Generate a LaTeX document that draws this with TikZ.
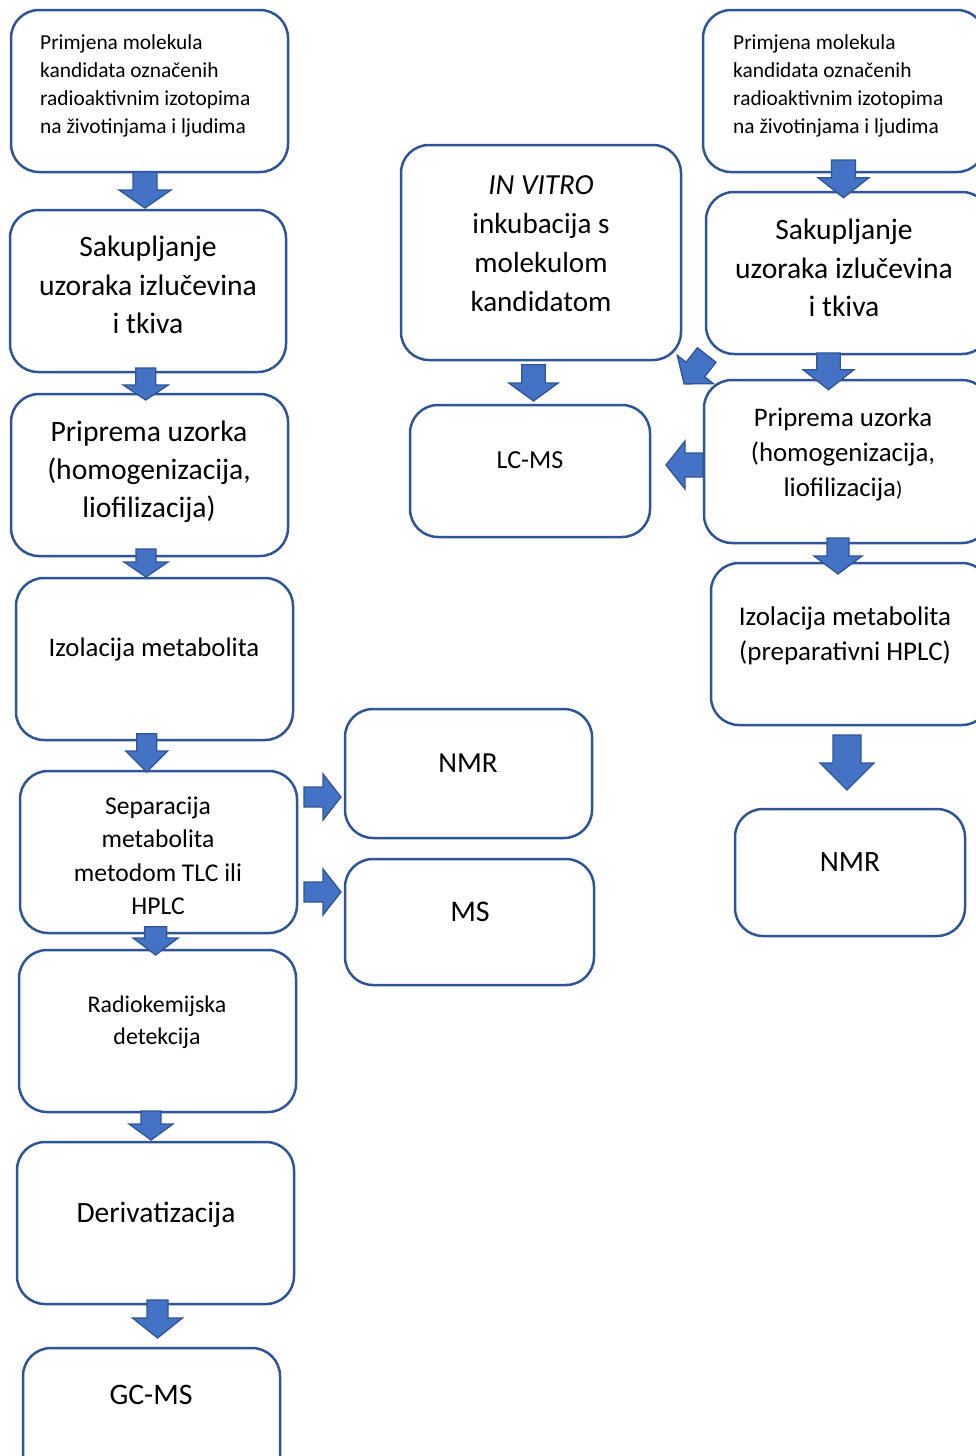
\documentclass[tikz,border=0pt]{standalone}
\usepackage{fontspec}
\setmainfont{Carlito}
\definecolor{bord}{HTML}{2F5597}
\definecolor{afill}{HTML}{4472C4}
\tikzset{
  box/.style={draw=bord, line width=2.5pt, rounded corners=28pt, fill=white, inner sep=0pt},
  txt/.style={align=center, inner sep=0pt, text=black, anchor=base},
  txtl/.style={align=left, inner sep=0pt, text=black, anchor=base west},
  arr/.style={fill=afill, draw=bord, line width=1.3pt, line join=miter},
}
\newcommand\fs[2]{\fontsize{#1}{#2}\selectfont}
% down arrow: cx, top, tip, shaft half, head half, head length
\newcommand\darr[6]{\draw[arr] ({#1-#4},#2) -- ({#1-#4},{#3-#6}) -- ({#1-#5},{#3-#6}) -- (#1,#3) -- ({#1+#5},{#3-#6}) -- ({#1+#4},{#3-#6}) -- ({#1+#4},#2) -- cycle;}
% general arrow: x, y (tail centre), angle, length, shaft half, head half, head length
\newcommand\garr[7]{\draw[arr, shift={(#1,#2)}, rotate=#3] (0,{-#5}) -- ({#4-#7},{-#5}) -- ({#4-#7},{-#6}) -- (#4,0) -- ({#4-#7},#6) -- ({#4-#7},#5) -- (0,#5) -- cycle;}
\begin{document}
\begin{tikzpicture}[x=1pt, y=-1pt]
\clip (0,0) rectangle (976,1456);
\fill[white] (0,0) rectangle (976,1456);

% left column
\node[box, minimum width=277pt, minimum height=162pt] (b1) at (149.5,91) {};
\node[box, minimum width=276pt, minimum height=162pt] (b2) at (148,291) {};
\node[box, minimum width=277pt, minimum height=162pt] (b3) at (149.5,475) {};
\node[box, minimum width=277pt, minimum height=162pt] (b4) at (154.5,659) {};
\node[box, minimum width=277pt, minimum height=162pt] (b5) at (158.5,852) {};
\node[box, minimum width=277pt, minimum height=162pt] (b6) at (157.5,1031) {};
\node[box, minimum width=277pt, minimum height=162pt] (b7) at (155.5,1223) {};
\node[box, minimum width=257pt, minimum height=162pt] (b8) at (151.5,1429) {};

% middle
\node[box, minimum width=280pt, minimum height=215pt] (iv) at (541,252.5) {};
\node[box, minimum width=240pt, minimum height=132pt] (lc) at (530,471) {};
\node[box, minimum width=247pt, minimum height=129pt] (nmrm) at (468.5,773.5) {};
\node[box, minimum width=249pt, minimum height=126pt] (ms) at (469.5,922) {};

% right column
\node[box, minimum width=282pt, minimum height=162pt] (r1) at (844,91) {};
\node[box, minimum width=284pt, minimum height=162pt] (r2) at (848,273) {};
\node[box, minimum width=286pt, minimum height=163pt] (r3) at (847,461.5) {};
\node[box, minimum width=279pt, minimum height=162pt] (r4) at (850.5,644) {};
\node[box, minimum width=230pt, minimum height=127pt] (r5) at (850,872.5) {};

% texts (anchor = baseline of the last line)
\node[txtl, font=\fs{21.4}{28}] (t1) at (40,133.5) {Primjena molekula\\kandidata označenih\\radioaktivnim izotopima\\na životinjama i ljudima};
\node[txt, font=\fs{29.6}{38.5}] (t2) at (148,333.5) {Sakupljanje\\uzoraka izlučevina\\i tkiva};
\node[txt, font=\fs{29.6}{38}] (t3) at (149,517.5) {Priprema uzorka\\(homogenizacija,\\liofilizacija)};
\node[txt, font=\fs{26.8}{32}] (t4) at (154,656.5) {Izolacija metabolita};
\node[txt, font=\fs{25.6}{33.3}] (t5) at (158,914.5) {Separacija\\metabolita\\metodom TLC ili\\HPLC};
\node[txt, font=\fs{23.9}{32}] (t6) at (157,1044) {Radiokemijska\\detekcija};
\node[txt, font=\fs{29.5}{36}] (t7) at (156,1222.5) {Derivatizacija};
\node[txt, font=\fs{29.8}{36}] (t8) at (151,1404.5) {GC-MS};

\node[txt, font=\fs{29.1}{38.7}] (tiv) at (541,311) {\textit{IN VITRO}\\inkubacija s\\molekulom\\kandidatom};
\node[txt, font=\fs{26}{32}] (tlc) at (530,468.5) {LC-MS};
\node[txt, font=\fs{29}{36}] (tnm) at (468,772.5) {NMR};
\node[txt, font=\fs{30}{36}] (tms) at (470,921.5) {MS};

\node[txtl, font=\fs{21.4}{28}] (u1) at (733,133.5) {Primjena molekula\\kandidata označenih\\radioaktivnim izotopima\\na životinjama i ljudima};
\node[txt, font=\fs{29.6}{38.5}] (u2) at (844,316.5) {Sakupljanje\\uzoraka izlučevina\\i tkiva};
\node[txt, font=\fs{26.8}{35}] (u3) at (843,496) {Priprema uzorka\\(homogenizacija,\\liofilizacija{\fs{21}{35})}};
\node[txt, font=\fs{27}{35}] (u4) at (845,660) {Izolacija metabolita\\(preparativni HPLC)};
\node[txt, font=\fs{29.5}{36}] (u5) at (850,871.5) {NMR};

% arrows left column
\darr{145}{172}{208}{12}{26}{18}
\darr{145.7}{368}{400}{10}{22.5}{15}
\darr{146}{549}{577}{10}{22}{15}
\darr{146.7}{733.7}{772}{10}{21}{21}
\darr{155.6}{926.7}{955}{11}{22.5}{17}
\darr{151}{1111}{1140}{10}{22}{16}
\darr{157.5}{1300}{1338}{10.5}{25}{20}
% arrows to NMR / MS
\garr{304}{797}{0}{37}{10}{23}{18}
\garr{304}{892}{0}{37}{10}{23}{18}
% middle
\darr{533.5}{364.7}{401}{11.7}{24.7}{18}
% right column
\darr{843.5}{160}{197.7}{12}{25.5}{20}
\darr{828.5}{353}{389.7}{11.7}{25.5}{20}
\darr{838}{538}{574}{11}{24}{18}
\darr{847}{735}{790}{14}{27}{27}
% to LC-MS and diagonal
\garr{703}{465}{180}{37}{12}{24}{19}
\garr{706.7}{355}{232}{36.7}{11.8}{23}{18.3}
\end{tikzpicture}
\end{document}
